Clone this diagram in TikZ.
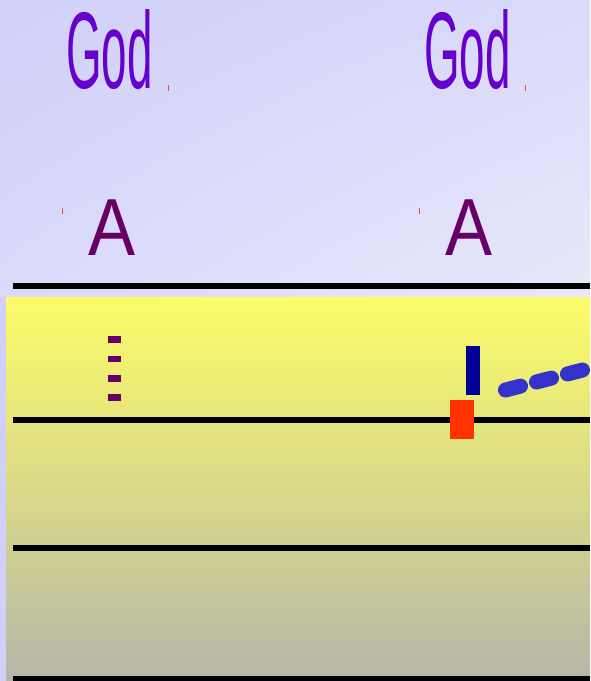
\documentclass[tikz,border=0pt]{standalone}
\usepackage{fontspec}
\setmainfont{Liberation Sans}
\usepackage{xcolor}
\usetikzlibrary{positioning,shadings}

\definecolor{lavtop}{HTML}{D0D0FA}
\definecolor{lavbot}{HTML}{E8E8FA}
\definecolor{yeltop}{HTML}{FCFC68}
\definecolor{yelbot}{HTML}{B6B6AA}
\definecolor{godcol}{HTML}{6600CC}
\definecolor{acol}{HTML}{660066}
\definecolor{blubar}{HTML}{000099}
\definecolor{redbox}{HTML}{FF3300}
\definecolor{bludash}{HTML}{3333CC}
\definecolor{tickred}{HTML}{E05040}

\tikzset{
  godtext/.style={anchor=base west, inner sep=0pt, text=godcol, xscale=0.42,
    font=\fontsize{109}{109}\selectfont},
  atext/.style={anchor=base west, inner sep=0pt, text=acol, xscale=0.87,
    font=\fontsize{81}{81}\selectfont},
  staff/.style={line width=5.5pt, black},
  dot/.style={fill=acol},
  redtick/.style={fill=tickred}
}

\begin{document}
\begin{tikzpicture}[x=1pt,y=-1pt]
\useasboundingbox (0,0) rectangle (590,681);

% hintergrund
\shade[upper left=lavtop, upper right=lavtop!60!lavbot, lower left=lavtop!60!lavbot,
  lower right=lavbot] (0,0) rectangle (590,297);
\fill[lavtop] (0,297) rectangle (6,681);
\shade[top color=yeltop, bottom color=yelbot] (6,297) rectangle (590,681);

% linien
\draw[staff] (13,286) -- (590,286);
\draw[staff] (13,420) -- (590,420);
\draw[staff] (13,548) -- (590,548);
\draw[staff] (13,679) -- (590,679);

% texte
\node[godtext] (god1) at (66,88) {God};
\node[godtext] (god2) at (424,88) {God};
\node[atext] (a1) at (88,255) {A};
\node[atext] (a2) at (445,255) {A};

% kleine striche
\fill[redtick] (167.5,85) rectangle (169,91);
\fill[redtick] (524.5,85) rectangle (526,91);
\fill[redtick] (61.5,208) rectangle (63,214);
\fill[redtick] (418.5,208) rectangle (420,214);

% punkte
\foreach \y in {336,355.5,375,394}
  \fill[dot] (108,\y) rectangle (121,\y+6.5);

% balken
\fill[blubar] (466,346) rectangle (480,395);
\fill[redbox] (450,400) rectangle (474,439);
\draw[bludash, line width=15pt, line cap=round, dash pattern=on 15.5pt off 16.5pt]
  (505.5,390) -- (600,365.5);

\end{tikzpicture}
\end{document}
